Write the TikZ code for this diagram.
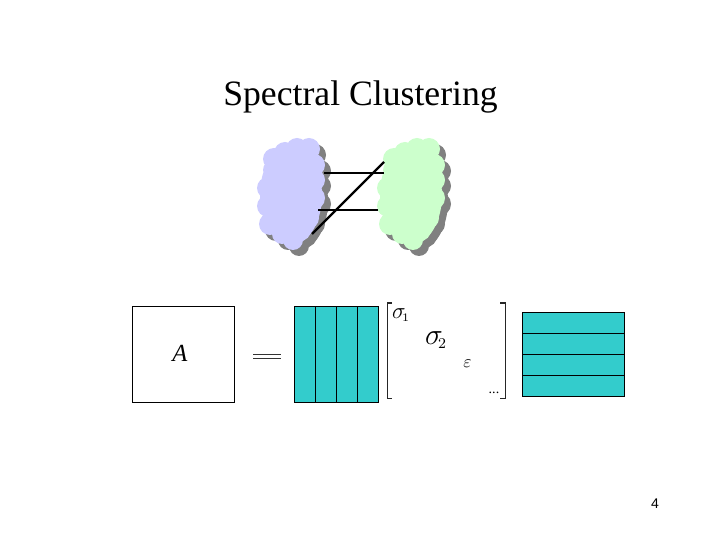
\documentclass[tikz,border=0pt]{standalone}
\usepackage{fix-cm}
\usepackage{fontspec}
\setmainfont{Liberation Serif}
\setsansfont{Liberation Sans}
\usetikzlibrary{positioning}
\definecolor{tealfill}{HTML}{33CCCC}
\definecolor{bluecloud}{HTML}{CCCCFF}
\definecolor{greencloud}{HTML}{CCFFCC}
\definecolor{shadowgray}{HTML}{808080}
\tikzset{
    txt/.style = {inner sep=0pt,outer sep=0pt,text=black},
    title/.style = {txt,font=\fontsize{20.3}{24}\selectfont},
    boxa/.style = {draw=black,line width=0.7pt,fill=white,minimum width=2.03cm,minimum height=1.91cm,inner sep=0pt},
    cellv/.style = {draw=black,line width=0.6pt,fill=tealfill,minimum width=0.42cm,minimum height=1.91cm,inner sep=0pt},
    cellh/.style = {draw=black,line width=0.6pt,fill=tealfill,minimum width=2.04cm,minimum height=0.42cm,inner sep=0pt},
    edgen/.style = {line width=1.3pt,black},
    eqline/.style = {line width=0.45pt,black!80},
    brk/.style = {line width=0.6pt,black!85},
}
% cloud at horizontal shift #1, vertical shift #2, colour #3
\newcommand{\cloudblob}[3]{
    \fill[#3,shift={(#1,#2)}]
        (291,195) ellipse (31 and 50)
        (274,159) circle (11) (285,153) circle (11) (297,149) circle (11)
        (309,149) circle (11) (314,165) circle (11) (314,180) circle (11)
        (313,198) circle (12) (308,218) circle (11) (300,230) circle (11)
        (293,240) circle (10) (282,234) circle (10) (270,224) circle (11)
        (268,206) circle (11) (268,188) circle (11) (273,170) circle (10);
}
\begin{document}
\begin{tikzpicture}[x=0.02cm,y=-0.02cm]
\useasboundingbox (0,0) rectangle (720,540);
%
\node[title] at (360.5,97) (ttl) {Spectral Clustering};
%
\cloudblob{6}{6}{shadowgray}
\cloudblob{126}{6}{shadowgray}
\cloudblob{0}{0}{bluecloud}
\cloudblob{120}{0}{greencloud}
%
\coordinate (p1) at (324,173);
\coordinate (q1) at (384,173);
\coordinate (p2) at (318,210);
\coordinate (q2) at (378,210);
\coordinate (p3) at (312,234);
\coordinate (q3) at (384,162);
\draw[edgen] (p1) -- (q1);
\draw[edgen] (p2) -- (q2);
\draw[edgen] (p3) -- (q3);
%
\node[boxa] at (183.4,354.4) (a) {};
\node[txt,font=\fontsize{14}{16}\selectfont\itshape] at (180,353) (alabel) {A};
%
\coordinate (e1) at (253,354);
\coordinate (e2) at (281,354);
\coordinate (e3) at (253,358);
\coordinate (e4) at (281,358);
\draw[eqline] (e1) -- (e2);
\draw[eqline] (e3) -- (e4);
%
\node[cellv] at (304.8,354.4) (u1) {};
\node[cellv] at (325.8,354.4) (u2) {};
\node[cellv] at (346.8,354.4) (u3) {};
\node[cellv] at (367.8,354.4) (u4) {};
%
\coordinate (lt) at (392,303);
\coordinate (lb) at (392,398.7);
\coordinate (rt) at (500,303);
\coordinate (rb) at (500,398.7);
\draw[brk] (lt) -- (387.3,303) -- (387.3,398.7) -- (lb);
\draw[brk] (rt) -- (505.7,303) -- (505.7,398.7) -- (rb);
%
\node[txt,font=\fontsize{13}{15}\selectfont] at (401,315) (s1) {$\sigma_{\!\scriptscriptstyle 1}$};
\node[txt,font=\fontsize{17}{20}\selectfont] at (436,340) (s2) {$\sigma_{\!\scriptscriptstyle 2}$};
\node[txt,font=\fontsize{10}{12}\selectfont] at (467.5,364) (eps) {$\varepsilon$};
\node[txt,font=\fontsize{8}{10}\selectfont] at (494,393) (dts) {...};
%
\node[cellh] at (573.3,322.8) (v1) {};
\node[cellh] at (573.3,343.8) (v2) {};
\node[cellh] at (573.3,364.8) (v3) {};
\node[cellh] at (573.3,385.8) (v4) {};
%
\node[txt,font=\sffamily\fontsize{8}{10}\selectfont] at (655,504) (pg) {4};
\end{tikzpicture}
\end{document}
